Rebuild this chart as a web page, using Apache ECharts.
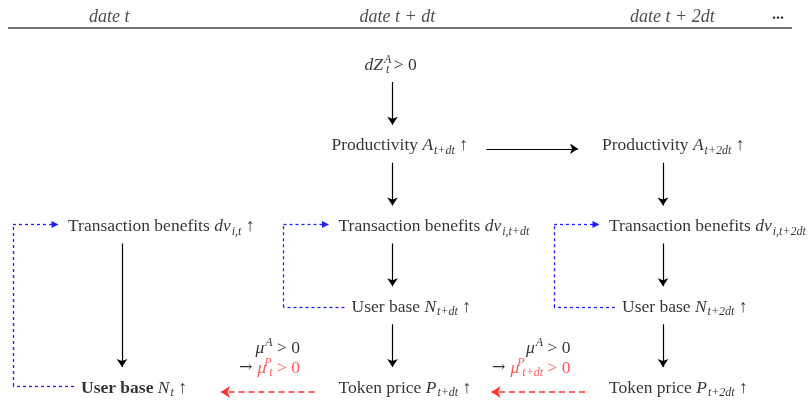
<!DOCTYPE html>
<html>
<head>
<meta charset="utf-8">
<script src="https://cdn.jsdelivr.net/npm/echarts@6/dist/echarts.min.js"></script>
<style>
  html, body { margin: 0; background: #fff; }
  #chart { width: 808px; height: 402px; }
</style>
</head>
<body>
<div id="chart"></div>
<script>
// columns = dates, rows = levels of the diagram
const dateLabels = ['date t', 'date t + dt', 'date t + 2dt'];
const dateCols = [0, 1, 2];

const nodeIds   = ['dz', 'prod1', 'prod2', 'trans0', 'trans1', 'trans2', 'user0', 'user1', 'user2', 'token1', 'token2'];
const nodeKinds = ['shock', 'prod', 'prod', 'trans', 'trans', 'trans', 'user', 'user', 'user', 'token', 'token'];
const nodeCols  = [1, 1, 2, 0, 1, 2, 0, 1, 2, 1, 2];
const nodeRows  = [0, 1, 1, 2, 2, 2, 4, 3, 3, 4, 4];
const nodeTexts = [
  '{i|dZ}{spz|A}{sb|t}{n| > 0}',
  'Productivity {i|A}{sb|t+dt} ↑',
  'Productivity {i|A}{sb|t+2dt} ↑',
  'Transaction benefits {i|dv}{sb|i,t} ↑',
  'Transaction benefits {i|dv}{sb|i,t+dt}',
  'Transaction benefits {i|dv}{sb|i,t+2dt}',
  '{b|User base} {i|N}{sb|t} ↑',
  'User base {i|N}{sb|t+dt} ↑',
  'User base {i|N}{sb|t+2dt} ↑',
  'Token price {i|P}{sb|t+dt} ↑',
  'Token price {i|P}{sb|t+2dt} ↑'
];

// black causal arrows (from -> to)
const causalLinks = [
  ['dz', 'prod1'], ['prod1', 'trans1'], ['prod2', 'trans2'],
  ['trans0', 'user0'], ['trans1', 'user1'], ['trans2', 'user2'],
  ['user1', 'token1'], ['user2', 'token2']
];
const productivityLinks = [['prod1', 'prod2']];
// blue network feedback (user base -> transaction benefits)
const networkLoops = [['user0', 'trans0'], ['user1', 'trans1'], ['user2', 'trans2']];
// red expected price drift (token price -> earlier node)
const driftLinks = [['token1', 'user0'], ['token2', 'token1']];
const driftTop = ['{i|μ}{sp|A}{n| > 0}', '{i|μ}{sp|A}{n| > 0}'];
const driftBottom = ['{to|→ }{ri|μ}{rspz|P}{rsb|t}{r| > 0}', '{to|→ }{ri|μ}{rspz|P}{rsb|t+dt}{r| > 0}'];

// ---- layout helpers (pixels -> data units) ----
const PX = 1 / 270.5, PY = 1 / 80.75;
const leftPad = { shock: -28, prod: -61, trans: -54, user: -41, token: -54 };
function node(id) {
  const k = nodeIds.indexOf(id);
  return { col: nodeCols[k], row: nodeRows[k] };
}
function pt(n, dx, dy) { return [n.col + dx * PX, n.row + dy * PY]; }

const FONT = "'Liberation Serif', 'DejaVu Serif', serif";
const INK = '#000';
const RED = '#ff3030';
const BLUE = '#1f1fff';
const FS = 17.5, SS = 12;
const rich = {
  n:    { fontFamily: FONT, fontSize: FS, color: INK },
  to:   { fontFamily: "'DejaVu Serif', serif", fontSize: 16, color: INK },
  i:    { fontFamily: FONT, fontSize: FS, color: INK, fontStyle: 'italic' },
  b:    { fontFamily: FONT, fontSize: FS, color: INK, fontWeight: 'bold' },
  sb:   { fontFamily: FONT, fontSize: SS, color: INK, fontStyle: 'italic', verticalAlign: 'top', padding: [10, 0, 0, 1] },
  sp:   { fontFamily: FONT, fontSize: SS, color: INK, fontStyle: 'italic', verticalAlign: 'top', padding: [0, 0, 0, 1] },
  spz:  { fontFamily: FONT, fontSize: SS, color: INK, fontStyle: 'italic', verticalAlign: 'top', padding: [0, 0, 0, 1], width: 1, align: 'left' },
  r:    { fontFamily: FONT, fontSize: FS, color: RED },
  ri:   { fontFamily: FONT, fontSize: FS, color: RED, fontStyle: 'italic' },
  rsb:  { fontFamily: FONT, fontSize: SS, color: RED, fontStyle: 'italic', verticalAlign: 'top', padding: [10, 0, 0, 1] },
  rspz: { fontFamily: FONT, fontSize: SS, color: RED, fontStyle: 'italic', verticalAlign: 'top', padding: [0, 0, 0, 1], width: 1, align: 'left' }
};

// ---- text marks ----
const textData = [];
nodeIds.forEach(function (id, k) {
  textData.push({
    value: pt(node(id), leftPad[nodeKinds[k]], 0),
    label: { formatter: nodeTexts[k], position: 'right' }
  });
});
dateCols.forEach(function (c, k) {
  textData.push({
    value: pt({ col: c, row: 0 }, -33, -48),
    label: { formatter: dateLabels[k], position: 'right', fontStyle: 'italic', fontSize: 18, color: '#222' }
  });
});
textData.push({
  value: pt({ col: 2, row: 0 }, 109, -50),
  label: { formatter: '...', position: 'right', fontWeight: 'bold', fontSize: 16 }
});
driftLinks.forEach(function (l, k) {
  const to = node(l[1]);
  const anchor = { col: to.col, row: 4 };
  textData.push({ value: pt(anchor, 178, -40), label: { formatter: driftTop[k], position: 'left' } });
  textData.push({ value: pt(anchor, 178, -20), label: { formatter: driftBottom[k], position: 'left' } });
});

// ---- arrow marks ----
const blackLines = causalLinks.map(function (l) {
  const a = node(l[0]), b = node(l[1]);
  return { coords: [pt(a, 0, 17), pt(b, 0, -21)] };
}).concat(productivityLinks.map(function (l) {
  const a = node(l[0]), b = node(l[1]);
  return { coords: [pt(a, 94, 3), pt(b, -85, 3)] };
}));
const blueSegs = [], blueHeads = [];
networkLoops.forEach(function (l) {
  const a = node(l[0]), b = node(l[1]);
  const dy = a.row === 4 ? -2 : 0;
  blueSegs.push({ coords: [pt(a, -48, dy), pt(a, -109, dy)] });
  blueSegs.push({ coords: [pt(a, -109, dy), pt(b, -109, -2)] });
  blueHeads.push({ coords: [pt(b, -109, -2), pt(b, -67, -2)] });
});
const redLines = driftLinks.map(function (l) {
  const a = node(l[0]), b = node(l[1]);
  return { coords: [pt(a, -78, 4), pt(b, 99, 4)] };
});
const ruleLine = [{ coords: [pt({ col: 0, row: 0 }, -114, -37), pt({ col: 2, row: 0 }, 129, -37)] }];

function linesSeries(data, color, width, dash, head, size) {
  return {
    type: 'lines', coordinateSystem: 'cartesian2d', clip: false, silent: true,
    symbol: ['none', head || 'none'], symbolSize: size || 7, data: data,
    lineStyle: { color: color, width: width, type: dash || 'solid', opacity: 1, curveness: 0 }
  };
}

const chart = echarts.init(document.getElementById('chart'));
chart.setOption({
  animation: false,
  backgroundColor: '#fff',
  grid: { left: 122, right: 145, top: 65, bottom: 14 },
  xAxis: { type: 'value', min: 0, max: 2, show: false },
  yAxis: { type: 'value', min: 0, max: 4, inverse: true, show: false },
  series: [
    linesSeries(ruleLine, '#444', 1.6),
    linesSeries(blackLines, '#000', 1.2, 'solid', 'arrow', 8),
    linesSeries(blueSegs, BLUE, 1.3, [3, 3]),
    linesSeries(blueHeads, BLUE, 1.3, [3, 3], 'triangle', 7),
    linesSeries(redLines, RED, 1.6, [6, 4], 'arrow', 9),
    {
      type: 'scatter', symbolSize: 0, data: textData, silent: true, clip: false,
      label: {
        show: true, distance: 0, fontFamily: FONT, fontSize: FS,
        color: INK, lineHeight: 22, rich: rich
      }
    }
  ]
});
</script>
</body>
</html>
